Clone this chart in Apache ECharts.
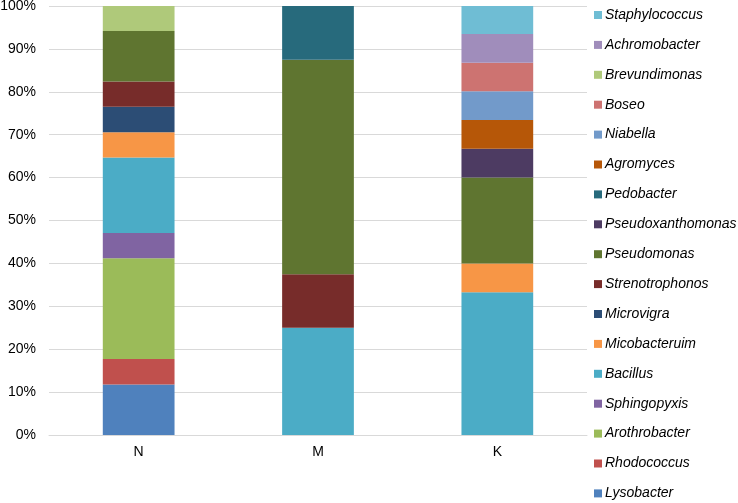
<!DOCTYPE html>
<html><head><meta charset="utf-8">
<script src="https://cdn.jsdelivr.net/npm/echarts@6/dist/echarts.min.js"></script>
<style>html,body{margin:0;padding:0;background:#fff}#c{width:738px;height:503px}</style>
</head><body><div id="c"></div>
<script>
const categories = ['N', 'M', 'K'];
const seriesNames = ['Lysobacter','Rhodococcus','Arothrobacter','Sphingopyxis','Bacillus','Micobacteruim','Microvigra','Strenotrophonos','Pseudomonas','Pseudoxanthomonas','Pedobacter','Agromyces','Niabella','Boseo','Brevundimonas','Achromobacter','Staphylococcus'];
// percentage values per series for [N, M, K]
const Lysobacter        = [11.8, 0, 0];
const Rhodococcus       = [5.9, 0, 0];
const Arothrobacter     = [23.5, 0, 0];
const Sphingopyxis      = [5.9, 0, 0];
const Bacillus          = [17.6, 25, 33.3];
const Micobacteruim     = [5.9, 0, 6.7];
const Microvigra        = [5.9, 0, 0];
const Strenotrophonos   = [5.9, 12.5, 0];
const Pseudomonas       = [11.8, 50, 20];
const Pseudoxanthomonas = [0, 0, 6.7];
const Pedobacter        = [0, 12.5, 0];
const Agromyces         = [0, 0, 6.7];
const Niabella          = [0, 0, 6.7];
const Boseo             = [0, 0, 6.7];
const Brevundimonas     = [5.9, 0, 0];
const Achromobacter     = [0, 0, 6.7];
const Staphylococcus    = [0, 0, 6.6];
const seriesValues = [Lysobacter,Rhodococcus,Arothrobacter,Sphingopyxis,Bacillus,Micobacteruim,Microvigra,Strenotrophonos,Pseudomonas,Pseudoxanthomonas,Pedobacter,Agromyces,Niabella,Boseo,Brevundimonas,Achromobacter,Staphylococcus];
const colors = ['#4F81BD','#C0504D','#9BBB59','#8064A2','#4BACC6','#F79646','#2C4D75','#772C2A','#5F7530','#4D3B62','#276A7C','#B65708','#729ACA','#CD7371','#AFC97A','#A08DBB','#6FBDD4'];

const chart = echarts.init(document.getElementById('c'), null, {renderer:'canvas'});
const font = 'Liberation Sans, Arial, sans-serif';
chart.setOption({
  animation: false,
  color: colors,
  grid: {left: 49, right: 151, top: 6, bottom: 68, containLabel: false, outerBoundsMode: 'none'},
  legend: {
    orient: 'vertical', right: 'auto', left: 594, top: 8, itemGap: 15.9, padding: 0,
    itemWidth: 8, itemHeight: 8, icon: 'rect',
    data: seriesNames.slice().reverse(),
    textStyle: {fontFamily: font, fontSize: 14, fontStyle: 'italic', color: '#000', padding:[0,0,0,-2]}
  },
  xAxis: {
    type: 'category', data: categories,
    axisLine: {lineStyle: {color: '#d9d9d9'}}, axisTick: {show: false},
    axisLabel: {fontFamily: font, fontSize: 14, color: '#000', margin: 10}
  },
  yAxis: {
    type: 'value', min: 0, max: 100, interval: 10,
    axisLabel: {formatter: '{value}%', fontFamily: font, fontSize: 14, color: '#000', margin: 13},
    splitLine: {lineStyle: {color: '#d9d9d9'}}, axisLine: {show: false}, axisTick: {show: false}
  },
  series: seriesNames.map((n, i) => ({
    name: n, type: 'bar', stack: 'total', barWidth: '40%',
    data: seriesValues[i].map(v => v === 0 ? '-' : v)
  }))
});
</script></body></html>
